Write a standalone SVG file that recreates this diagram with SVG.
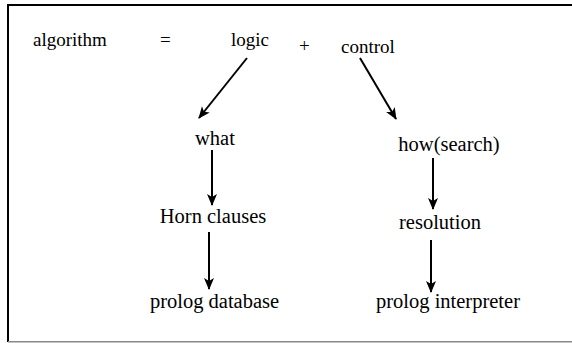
<svg xmlns="http://www.w3.org/2000/svg" width="572" height="343" viewBox="0 0 572 343">
<style>
text{font-family:"Liberation Serif","DejaVu Serif","Times New Roman",serif;font-size:20.5px;fill:#000}
.top{font-size:19px}
.c{stroke:#000;stroke-width:2;fill:none;marker-end:url(#ah)}
</style>
<defs>
<marker id="ah" markerUnits="userSpaceOnUse" markerWidth="14" markerHeight="12" viewBox="-12 -6 14 12" refX="0" refY="0" orient="auto">
<path d="M1,0 L-11,-5 L-8,0 L-11,5 Z" fill="#000"/>
</marker>
</defs>
<rect width="572" height="343" fill="#fff"/>
<g id="frame">
<line x1="7" y1="5" x2="572" y2="5" stroke="#000" stroke-width="2"/>
<line x1="8" y1="4" x2="8" y2="342" stroke="#000" stroke-width="2"/>
<line x1="8" y1="341.8" x2="572" y2="341.8" stroke="#888" stroke-width="1.5"/>
</g>
<g font-family="Liberation Serif, DejaVu Serif, Times New Roman, serif">
<g id="n-algorithm"><text class="top" x="33" y="45.5">algorithm</text></g>
<g id="n-eq"><text class="top" x="160" y="46">=</text></g>
<g id="n-logic"><text class="top" x="231" y="46">logic</text></g>
<g id="n-plus"><text class="top" x="299" y="52">+</text></g>
<g id="n-control"><text class="top" x="341" y="53">control</text></g>
<g id="n-what"><text x="215" y="145" text-anchor="middle">what</text></g>
<g id="n-how"><text x="449" y="151" text-anchor="middle">how(search)</text></g>
<g id="n-horn"><text x="213" y="223" text-anchor="middle">Horn clauses</text></g>
<g id="n-resolution"><text x="440" y="229" text-anchor="middle">resolution</text></g>
<g id="n-db"><text x="214.5" y="308" text-anchor="middle">prolog database</text></g>
<g id="n-interp"><text x="448" y="308" text-anchor="middle">prolog interpreter</text></g>
</g>
<g id="connectors">
<line class="c" x1="247" y1="58" x2="199" y2="118"/>
<line class="c" x1="360" y1="58" x2="396" y2="119"/>
<line class="c" x1="212" y1="150" x2="212" y2="205"/>
<line class="c" x1="433" y1="158" x2="433" y2="209"/>
<line class="c" x1="209" y1="232" x2="209" y2="289"/>
<line class="c" x1="431" y1="240" x2="431" y2="292"/>
</g>
</svg>
